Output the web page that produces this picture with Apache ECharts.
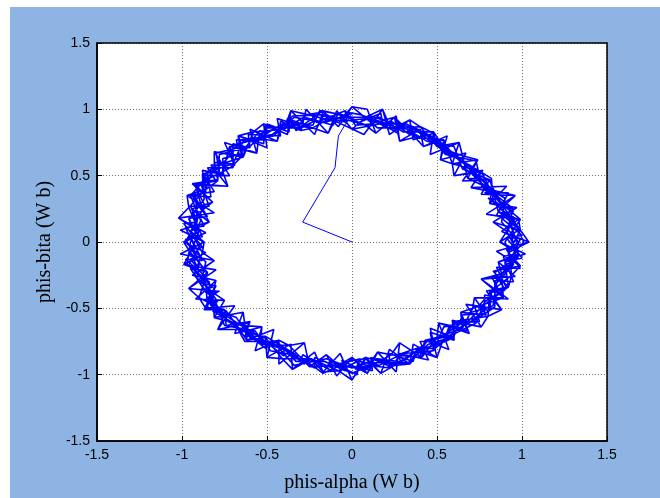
<!DOCTYPE html>
<html>
<head>
    <meta charset="utf-8">
    <title>phis-alpha / phis-bita</title>
    <script src="https://cdn.jsdelivr.net/npm/echarts@6.0.0/dist/echarts.min.js"></script>
    <style>
        html, body { margin: 0; padding: 0; background: #fff; }
        #wrap { position: relative; width: 660px; height: 498px; overflow: hidden; }
        #bg { position: absolute; left: 10px; top: 7px; right: 0; bottom: 0; background: #8db4e2; }
        #main { position: absolute; left: 0; top: 0; width: 660px; height: 498px; }
    </style>
</head>
<body>
<div id="wrap">
    <div id="bg"></div>
    <div id="main"></div>
</div>
<script type="text/javascript">

    // tick labels
    let tickValues = [-1.5, -1, -0.5, 0, 0.5, 1, 1.5];

    // start-up transient
    let startAlpha = [0.00, -0.29, -0.10, -0.08];
    let startBita  = [0.00,  0.15,  0.56,  0.80];

    // flux trajectory, loop by loop
    let loop1Alpha = [0.00,-0.16,-0.34,-0.47,-0.64,-0.70,-0.88,-0.87,-0.96,-0.88,-0.96,-0.86,-0.85,-0.68,-0.60,-0.45,-0.34,-0.15,0.00,0.15,0.33,0.45,0.60,0.65,0.83,0.85,0.95,0.90,0.99,0.86,0.81,0.65,0.60,0.44,0.31,0.15];
    let loop1Bita  = [0.97,0.90,0.94,0.81,0.76,0.59,0.51,0.32,0.17,0.00,-0.17,-0.31,-0.49,-0.57,-0.72,-0.77,-0.93,-0.88,-0.95,-0.88,-0.91,-0.77,-0.71,-0.55,-0.48,-0.31,-0.17,0.00,0.17,0.31,0.47,0.55,0.72,0.76,0.86,0.86];

    // loops swinging across the band (outer / inner edge)
    let zig1Alpha = [0.00,-0.08,-0.17,-0.22,-0.36,-0.38,-0.52,-0.50,-0.67,-0.65,
        -0.81,-0.72,-0.87,-0.81,-0.97,-0.81,-1.02,-0.86,-0.99,-0.86,
        -0.99,-0.80,-0.96,-0.80,-0.86,-0.69,-0.79,-0.61,-0.62,-0.46,
        -0.50,-0.36,-0.35,-0.22,-0.17,-0.07,0.00,0.08,0.17,0.22,
        0.34,0.36,0.50,0.46,0.60,0.59,0.76,0.67,0.88,0.79,
        0.92,0.83,0.99,0.85,1.04,0.88,0.98,0.79,0.96,0.76,
        0.81,0.65,0.74,0.59,0.63,0.46,0.48,0.36,0.34,0.22,
        0.18,0.07];
    let zig1Bita  = [1.02,0.87,0.98,0.81,0.99,0.81,0.89,0.71,0.80,0.65,
        0.68,0.50,0.50,0.38,0.35,0.22,0.18,0.07,0.00,-0.08,
        -0.17,-0.21,-0.35,-0.37,-0.50,-0.48,-0.66,-0.61,-0.74,-0.66,
        -0.87,-0.77,-0.96,-0.83,-0.98,-0.84,-1.04,-0.88,-0.99,-0.81,
        -0.92,-0.77,-0.87,-0.65,-0.72,-0.59,-0.64,-0.47,-0.51,-0.37,
        -0.34,-0.22,-0.18,-0.07,0.00,0.08,0.17,0.21,0.35,0.36,
        0.47,0.46,0.62,0.59,0.75,0.66,0.82,0.77,0.92,0.81,
        1.00,0.81];

    let loop2Alpha = [-0.08,-0.26,-0.40,-0.58,-0.64,-0.81,-0.86,-0.96,-0.90,-0.95,-0.85,-0.90,-0.74,-0.66,-0.51,-0.41,-0.24,-0.08,0.08,0.25,0.38,0.53,0.60,0.80,0.81,0.94,0.92,0.99,0.86,0.83,0.68,0.65,0.50,0.40,0.23,0.08];
    let loop2Bita  = [0.90,0.96,0.85,0.83,0.64,0.57,0.40,0.26,0.08,-0.08,-0.23,-0.42,-0.52,-0.66,-0.72,-0.88,-0.88,-0.97,-0.87,-0.93,-0.82,-0.76,-0.60,-0.56,-0.38,-0.25,-0.08,0.09,0.23,0.39,0.48,0.65,0.72,0.87,0.85,0.94];

    let zig2Alpha = [0.00,-0.09,-0.14,-0.27,-0.30,-0.42,-0.44,-0.60,-0.56,-0.75,
        -0.69,-0.83,-0.73,-0.94,-0.82,-0.94,-0.84,-1.01,-0.87,-1.01,
        -0.81,-0.94,-0.80,-0.92,-0.75,-0.81,-0.64,-0.69,-0.53,-0.57,
        -0.43,-0.43,-0.28,-0.25,-0.15,-0.09,0.00,0.09,0.15,0.26,
        0.28,0.40,0.43,0.57,0.51,0.69,0.64,0.79,0.72,0.92,
        0.76,0.96,0.86,1.02,0.87,0.98,0.83,0.97,0.81,0.91,
        0.70,0.77,0.60,0.67,0.52,0.56,0.42,0.40,0.28,0.26,
        0.14,0.09];
    let zig2Bita  = [0.85,0.99,0.82,1.00,0.84,0.91,0.76,0.85,0.67,0.75,
        0.58,0.58,0.42,0.44,0.30,0.25,0.15,0.09,0.00,-0.09,
        -0.14,-0.25,-0.29,-0.43,-0.44,-0.57,-0.53,-0.69,-0.64,-0.82,
        -0.74,-0.92,-0.76,-0.94,-0.85,-1.01,-0.87,-0.99,-0.83,-0.98,
        -0.76,-0.86,-0.74,-0.81,-0.61,-0.69,-0.53,-0.55,-0.42,-0.43,
        -0.28,-0.26,-0.15,-0.09,0.00,0.09,0.15,0.26,0.29,0.42,
        0.41,0.54,0.50,0.67,0.62,0.80,0.72,0.85,0.76,0.95,
        0.82,1.00];

    let zig3Alpha = [0.00,-0.08,-0.17,-0.26,-0.36,-0.40,-0.52,-0.58,-0.67,-0.64,
        -0.81,-0.81,-0.87,-0.86,-0.97,-0.96,-1.02,-0.90,-0.99,-0.95,
        -0.99,-0.85,-0.96,-0.90,-0.86,-0.74,-0.79,-0.66,-0.62,-0.51,
        -0.50,-0.41,-0.35,-0.24,-0.17,-0.08,0.00,0.08,0.17,0.25,
        0.34,0.38,0.50,0.53,0.60,0.60,0.76,0.80,0.88,0.81,
        0.92,0.94,0.99,0.92,1.04,0.99,0.98,0.86,0.96,0.83,
        0.81,0.68,0.74,0.65,0.63,0.50,0.48,0.40,0.34,0.23,
        0.18,0.08];
    let zig3Bita  = [1.02,0.90,0.98,0.96,0.99,0.85,0.89,0.83,0.80,0.64,
        0.68,0.57,0.50,0.40,0.35,0.26,0.18,0.08,0.00,-0.08,
        -0.17,-0.23,-0.35,-0.42,-0.50,-0.52,-0.66,-0.66,-0.74,-0.72,
        -0.87,-0.88,-0.96,-0.88,-0.98,-0.97,-1.04,-0.87,-0.99,-0.93,
        -0.92,-0.82,-0.87,-0.76,-0.72,-0.60,-0.64,-0.56,-0.51,-0.38,
        -0.34,-0.25,-0.18,-0.08,0.00,0.09,0.17,0.23,0.35,0.39,
        0.47,0.48,0.62,0.65,0.75,0.72,0.82,0.87,0.92,0.85,
        1.00,0.94];

    let zig4Alpha = [0.00,-0.08,-0.14,-0.23,-0.30,-0.41,-0.44,-0.55,-0.56,-0.72,
        -0.69,-0.76,-0.73,-0.92,-0.82,-0.88,-0.84,-0.95,-0.87,-0.88,
        -0.81,-0.93,-0.80,-0.82,-0.75,-0.81,-0.64,-0.63,-0.53,-0.54,
        -0.43,-0.37,-0.28,-0.25,-0.15,-0.08,0.00,0.08,0.15,0.23,
        0.28,0.41,0.43,0.50,0.51,0.65,0.64,0.71,0.72,0.89,
        0.76,0.88,0.86,0.98,0.87,0.91,0.83,0.95,0.81,0.82,
        0.70,0.76,0.60,0.59,0.52,0.54,0.42,0.37,0.28,0.25,
        0.14,0.08];
    let zig4Bita  = [0.85,0.97,0.82,0.86,0.84,0.89,0.76,0.78,0.67,0.72,
        0.58,0.53,0.42,0.43,0.30,0.24,0.15,0.08,0.00,-0.08,
        -0.14,-0.25,-0.29,-0.38,-0.44,-0.57,-0.53,-0.63,-0.64,-0.77,
        -0.74,-0.78,-0.76,-0.94,-0.85,-0.93,-0.87,-0.96,-0.83,-0.85,
        -0.76,-0.87,-0.74,-0.72,-0.61,-0.65,-0.53,-0.50,-0.42,-0.42,
        -0.28,-0.24,-0.15,-0.09,0.00,0.08,0.15,0.25,0.29,0.38,
        0.41,0.53,0.50,0.59,0.62,0.77,0.72,0.79,0.76,0.94,
        0.82,0.88];

    let loop3Alpha = [0.00,-0.17,-0.31,-0.50,-0.60,-0.78,-0.79,-0.92,-0.91,-0.98,-0.86,-0.89,-0.80,-0.75,-0.57,-0.48,-0.31,-0.17,0.00,0.16,0.30,0.48,0.54,0.71,0.84,0.84,0.94,0.98,0.88,0.90,0.76,0.73,0.55,0.46,0.32,0.16];
    let loop3Bita  = [0.94,0.99,0.86,0.86,0.72,0.66,0.46,0.34,0.16,0.00,-0.15,-0.32,-0.46,-0.63,-0.67,-0.82,-0.86,-0.99,-0.89,-0.93,-0.84,-0.82,-0.64,-0.60,-0.49,-0.30,-0.17,0.00,0.15,0.33,0.44,0.61,0.66,0.79,0.89,0.89];

    let loop4Alpha = [-0.08,-0.23,-0.41,-0.55,-0.72,-0.76,-0.92,-0.88,-0.95,-0.88,-0.93,-0.82,-0.81,-0.63,-0.54,-0.37,-0.25,-0.08,0.08,0.23,0.41,0.50,0.65,0.71,0.89,0.88,0.98,0.91,0.95,0.82,0.76,0.59,0.54,0.37,0.25,0.08];
    let loop4Bita  = [0.97,0.86,0.89,0.78,0.72,0.53,0.43,0.24,0.08,-0.08,-0.25,-0.38,-0.57,-0.63,-0.77,-0.78,-0.94,-0.93,-0.96,-0.85,-0.87,-0.72,-0.65,-0.50,-0.42,-0.24,-0.09,0.08,0.25,0.38,0.53,0.59,0.77,0.79,0.94,0.88];

    let loop5Alpha = [0.00,-0.17,-0.35,-0.46,-0.65,-0.74,-0.85,-0.95,-0.89,-0.95,-0.97,-0.84,-0.83,-0.70,-0.63,-0.44,-0.33,-0.16,0.00,0.16,0.34,0.44,0.59,0.73,0.78,0.92,0.90,1.01,0.95,0.83,0.82,0.69,0.56,0.48,0.30,0.16,0.00];
    let loop5Bita  = [0.91,0.96,0.95,0.80,0.77,0.62,0.49,0.35,0.16,0.00,-0.17,-0.30,-0.48,-0.59,-0.75,-0.75,-0.90,-0.90,-0.99,-0.90,-0.92,-0.75,-0.70,-0.61,-0.45,-0.34,-0.16,0.00,0.17,0.30,0.48,0.58,0.67,0.83,0.83,0.94,0.92];

    let loop6Alpha = [0.03,-0.10,-0.11,-0.28,-0.31,-0.44,-0.42,-0.61,-0.60,-0.70,
        -0.70,-0.85,-0.80,-0.89,-0.84,-0.95,-0.91,-0.99,-0.88,-0.96,
        -0.91,-0.94,-0.82,-0.86,-0.78,-0.82,-0.67,-0.66,-0.57,-0.58,
        -0.40,-0.42,-0.28,-0.26,-0.15,-0.13,0.03,0.04,0.22,0.22,
        0.36,0.38,0.48,0.46,0.60,0.60,0.75,0.72,0.81,0.82,
        0.91,0.85,0.99,0.91,0.97,0.93,0.98,0.86,0.89,0.76,
        0.80,0.70,0.72,0.58,0.58,0.49,0.51,0.34,0.34,0.23,
        0.21,0.05];
    let loop6Bita  = [0.91,0.97,0.88,0.94,0.88,0.93,0.80,0.81,0.71,0.74,
        0.56,0.56,0.46,0.44,0.27,0.27,0.15,0.14,-0.04,-0.06,
        -0.19,-0.19,-0.34,-0.35,-0.53,-0.52,-0.63,-0.60,-0.74,-0.73,
        -0.81,-0.78,-0.92,-0.87,-0.95,-0.90,-1.00,-0.92,-0.95,-0.84,
        -0.90,-0.81,-0.80,-0.68,-0.74,-0.61,-0.60,-0.48,-0.52,-0.38,
        -0.35,-0.19,-0.20,-0.06,-0.01,0.14,0.11,0.27,0.29,0.42,
        0.39,0.52,0.54,0.68,0.64,0.75,0.77,0.88,0.81,0.91,
        0.89,0.96];

    let loop7Alpha = [-0.04,-0.03,-0.17,-0.21,-0.38,-0.39,-0.51,-0.52,-0.67,-0.63,
        -0.76,-0.76,-0.88,-0.86,-0.93,-0.85,-0.96,-0.92,-0.95,-0.88,
        -0.98,-0.86,-0.89,-0.79,-0.84,-0.75,-0.76,-0.59,-0.63,-0.51,
        -0.47,-0.34,-0.36,-0.22,-0.22,-0.05,-0.02,0.12,0.11,0.25,
        0.28,0.45,0.40,0.54,0.57,0.68,0.64,0.78,0.78,0.89,
        0.82,0.91,0.90,1.00,0.91,0.96,0.92,0.95,0.80,0.85,
        0.76,0.77,0.62,0.64,0.54,0.56,0.41,0.40,0.30,0.30,
        0.11,0.11];
    let loop7Bita  = [0.98,0.90,0.95,0.85,0.93,0.86,0.87,0.74,0.80,0.67,
        0.63,0.51,0.54,0.38,0.35,0.19,0.18,0.07,0.04,-0.14,
        -0.13,-0.26,-0.27,-0.45,-0.46,-0.57,-0.54,-0.68,-0.68,-0.80,
        -0.76,-0.85,-0.84,-0.95,-0.87,-0.96,-0.93,-0.97,-0.87,-0.92,
        -0.84,-0.89,-0.75,-0.75,-0.64,-0.67,-0.55,-0.54,-0.40,-0.43,
        -0.26,-0.26,-0.15,-0.12,0.03,0.03,0.20,0.23,0.33,0.32,
        0.48,0.46,0.59,0.60,0.74,0.72,0.83,0.78,0.87,0.86,
        0.95,0.89];

    let loop8Alpha = [0.02,-0.02,-0.19,-0.23,-0.37,-0.37,-0.50,-0.51,-0.68,-0.66,
        -0.69,-0.81,-0.79,-0.93,-0.86,-0.92,-0.87,-0.98,-0.92,-0.96,
        -0.89,-0.95,-0.86,-0.78,-0.85,-0.74,-0.74,-0.60,-0.60,-0.49,
        -0.40,-0.40,-0.30,-0.29,-0.12,-0.11,0.05,0.02,0.17,0.22,
        0.32,0.43,0.39,0.55,0.56,0.69,0.66,0.77,0.77,0.90,
        0.90,0.84,0.98,0.93,0.99,0.91,0.95,0.85,0.92,0.78,
        0.82,0.71,0.71,0.58,0.63,0.50,0.47,0.35,0.36,0.18,
        0.17,0.04];
    let loop8Bita  = [0.88,0.95,0.99,0.88,0.90,0.83,0.89,0.77,0.77,0.63,
        0.59,0.60,0.47,0.44,0.26,0.26,0.12,0.11,-0.05,-0.02,
        -0.17,-0.20,-0.38,-0.37,-0.42,-0.56,-0.59,-0.70,-0.66,-0.77,
        -0.86,-0.81,-0.89,-0.85,-0.97,-0.93,-0.88,-0.96,-0.90,-0.94,
        -0.88,-0.77,-0.83,-0.73,-0.72,-0.59,-0.63,-0.48,-0.47,-0.36,
        -0.36,-0.23,-0.11,-0.14,0.02,0.06,0.19,0.20,0.37,0.37,
        0.40,0.54,0.56,0.67,0.62,0.75,0.75,0.87,0.84,0.89,
        0.97,0.90];

    let loop9Alpha = [-0.02,-0.04,-0.21,-0.21,-0.33,-0.35,-0.52,-0.54,-0.65,-0.64,
        -0.80,-0.78,-0.85,-0.83,-0.94,-0.88,-0.94,-0.88,-0.98,-0.91,
        -0.95,-0.85,-0.89,-0.80,-0.87,-0.75,-0.74,-0.60,-0.63,-0.51,
        -0.47,-0.33,-0.37,-0.21,-0.18,-0.04,-0.06,0.09,0.13,0.29,
        0.27,0.41,0.44,0.58,0.53,0.67,0.68,0.79,0.74,0.85,
        0.84,0.95,0.89,0.96,0.94,1.00,0.88,0.93,0.84,0.86,
        0.72,0.74,0.65,0.68,0.53,0.53,0.44,0.44,0.26,0.27,
        0.14,0.12];
    let loop9Bita  = [0.95,0.99,0.90,0.92,0.84,0.91,0.82,0.84,0.68,0.72,
        0.67,0.53,0.52,0.34,0.35,0.23,0.22,0.04,0.02,-0.11,
        -0.13,-0.29,-0.31,-0.33,-0.51,-0.51,-0.63,-0.60,-0.71,-0.71,
        -0.74,-0.85,-0.85,-0.95,-0.89,-0.97,-0.89,-0.99,-0.91,-0.91,
        -0.85,-0.79,-0.85,-0.71,-0.71,-0.59,-0.62,-0.50,-0.49,-0.33,
        -0.29,-0.30,-0.11,-0.09,0.04,0.05,0.18,0.19,0.37,0.34,
        0.49,0.49,0.60,0.58,0.74,0.72,0.80,0.79,0.91,0.82,
        0.92,0.88];

    let ringAlpha = [].concat(loop1Alpha, zig1Alpha, loop2Alpha, zig2Alpha, zig3Alpha, loop3Alpha,
        zig4Alpha, loop4Alpha, loop5Alpha, loop6Alpha, loop7Alpha, loop8Alpha, loop9Alpha);
    let ringBita  = [].concat(loop1Bita, zig1Bita, loop2Bita, zig2Bita, zig3Bita, loop3Bita,
        zig4Bita, loop4Bita, loop5Bita, loop6Bita, loop7Bita, loop8Bita, loop9Bita);

    // transient joins the first ring point
    let startPoints = [];
    for (let i = 0; i < startAlpha.length; i++) {
        startPoints.push([startAlpha[i], startBita[i]]);
    }
    startPoints.push([ringAlpha[0], ringBita[0]]);

    let ringPoints = [];
    for (let i = 0; i < ringAlpha.length; i++) {
        ringPoints.push([ringAlpha[i], ringBita[i]]);
    }

    let axisCommon = {
        type: 'value',
        min: tickValues[0],
        max: tickValues[tickValues.length - 1],
        interval: 0.5,
        axisLine: { show: true, onZero: false, lineStyle: { color: '#000', width: 1.5 } },
        axisTick: { show: true, inside: true, length: 5, lineStyle: { color: '#000' } },
        axisLabel: { color: '#000', fontFamily: 'Liberation Sans', fontSize: 14 },
        splitLine: { show: true, lineStyle: { color: '#000', type: [1, 2], width: 1, opacity: 0.55 } },
        nameLocation: 'middle',
        nameTextStyle: { color: '#000', fontFamily: 'Liberation Serif', fontSize: 20 }
    };

    let option = {
        animation: false,
        backgroundColor: 'transparent',
        grid: {
            left: 97, right: 53, top: 43, bottom: 56,
            show: true, backgroundColor: '#fff', borderColor: '#000', borderWidth: 1.5
        },
        xAxis: Object.assign({}, axisCommon, {
            name: 'phis-alpha (W b)',
            nameGap: 32,
            axisLabel: Object.assign({}, axisCommon.axisLabel, { margin: 7 })
        }),
        yAxis: Object.assign({}, axisCommon, {
            name: 'phis-bita (W b)',
            nameGap: 42,
            axisLabel: Object.assign({}, axisCommon.axisLabel, { margin: 7 })
        }),
        series: [
            {
                type: 'line',
                data: startPoints,
                symbol: 'none',
                lineStyle: { color: '#0000ff', width: 1 }
            },
            {
                type: 'line',
                data: ringPoints,
                symbol: 'none',
                smooth: false,
                lineStyle: { color: '#0000ff', width: 1.6 }
            }
        ]
    };

    let myChart = echarts.init(document.getElementById('main'), null, { renderer: 'canvas' });
    myChart.setOption(option);
</script>
</body>
</html>
